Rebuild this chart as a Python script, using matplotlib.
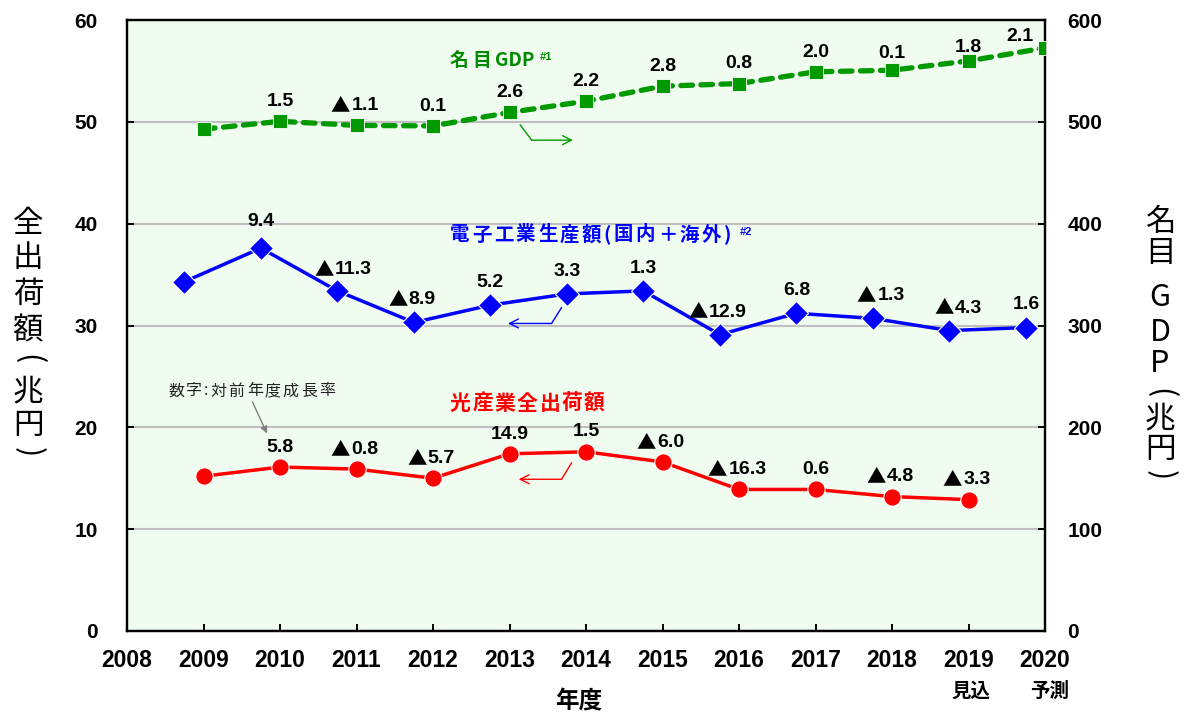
import matplotlib
matplotlib.use('Agg')
import matplotlib.pyplot as plt
import matplotlib.transforms as mtransforms
import numpy as np

plt.rcParams['font.family'] = ['Liberation Sans', 'Noto Sans CJK JP', 'DejaVu Sans']
JP = ['Noto Sans CJK JP', 'DejaVu Sans']

# data (fiscal years)
years = [2009, 2010, 2011, 2012, 2013, 2014, 2015, 2016, 2017, 2018, 2019, 2020]
gdp = [492.8, 500.5, 496.5, 496.0, 509.2, 520.3, 535.0, 537.6, 549.1, 550.7, 559.8, 572.6]
gdp_growth = [None, 1.5, -1.1, 0.1, 2.6, 2.2, 2.8, 0.8, 2.0, 0.1, 1.8, 2.1]
elec = [34.3, 37.6, 33.4, 30.3, 32.0, 33.1, 33.4, 29.1, 31.2, 30.7, 29.5, 29.8]
elec_growth = [None, 9.4, -11.3, -8.9, 5.2, 3.3, 1.3, -12.9, 6.8, -1.3, -4.3, 1.6]
opt_years = [2009, 2010, 2011, 2012, 2013, 2014, 2015, 2016, 2017, 2018, 2019]
opt = [15.2, 16.1, 15.9, 15.0, 17.4, 17.6, 16.6, 13.9, 13.9, 13.2, 12.9]
opt_growth = [None, 5.8, -0.8, -5.7, 14.9, 1.5, -6.0, -16.3, 0.6, -4.8, -3.3]

xtick_years = list(range(2008, 2021))
left_ticks = [0, 10, 20, 30, 40, 50, 60]
right_ticks = [0, 100, 200, 300, 400, 500, 600]

GREEN = '#009a00'
BLUE = '#0000ff'
RED = '#ff0000'
W, H = 1186, 720

fig = plt.figure(figsize=(W / 100, H / 100), dpi=100)
ax = fig.add_axes([127 / W, 89 / H, 918 / W, 611 / H])
ax.set_facecolor('#f1fcf1')
ax.set_xlim(2008, 2020)
ax.set_ylim(0, 60)
ax2 = ax.twinx()
ax2.set_ylim(0, 600)

ax.set_yticks(left_ticks)
ax2.set_yticks(right_ticks)
ax.set_xticks(xtick_years)
ax.set_xticklabels([str(y) for y in xtick_years], fontsize=16.5, fontweight='bold')
ax.set_yticklabels([str(v) for v in left_ticks], fontsize=15, fontweight='bold')
ax2.set_yticklabels([str(v) for v in right_ticks], fontsize=15, fontweight='bold')
ax.tick_params(axis='x', direction='in', length=5, width=1.4, pad=13)
ax.tick_params(axis='y', direction='in', length=5, width=1.4, pad=21)
ax2.tick_params(axis='y', direction='in', length=5, width=1.4, pad=16)
ax.grid(axis='y', color='#bfbfbf', lw=1.5)
for a in (ax, ax2):
    for s in a.spines.values():
        s.set_linewidth(1.6)
        s.set_color('black')

# series
ax.plot(np.array(years) - 0.25, elec, color=BLUE, lw=2.5, marker='D', ms=12,
        mec='white', mew=0.8, zorder=3)
ax.plot(opt_years, opt, color=RED, lw=2.5, marker='o', ms=12.5,
        mec='white', mew=0.8, zorder=3)
ax2.plot(years, gdp, color=GREEN, lw=3.8, ls=(0, (2.2, 1.6)), dash_capstyle='round',
         marker='s', ms=9.5, mec='white', mew=0.6, zorder=3)


def label_points(axis, xs, ys, growth, dy, tweaks):
    fs = 14
    for x, y, g in zip(xs, ys, growth):
        if g is None:
            continue
        dx, ddy = tweaks.get(round(x), (0, dy))
        base = ddy - 5
        num = '%.1f' % abs(g)
        kw = dict(xycoords='data', textcoords='offset points', va='baseline',
                  fontsize=fs, fontweight='bold', color='black', zorder=6)
        if g < 0:
            w_num = fs * (0.556 * (len(num) - 1) + 0.278)
            w_tri = fs * 0.85
            j = dx + (w_tri - w_num) / 2
            axis.annotate('\u25b2', (x, y), xytext=(j - 0.8, base - 0.8), ha='right',
                          family=JP, **kw)
            axis.annotate(num, (x, y), xytext=(j, base), ha='left', **kw)
        else:
            axis.annotate(num, (x, y), xytext=(dx, base), ha='center', **kw)


label_points(ax2, years, gdp, gdp_growth, 16,
             {2018: (0, 14), 2019: (0, 11.5), 2020: (-18, 10)})
label_points(ax, np.array(years) - 0.25, elec, elec_growth, 18,
             {2010: (0, 21), 2011: (6, 17), 2018: (7, 18), 2019: (8, 18)})
label_points(ax, opt_years, opt, opt_growth, 16, {})

renderer = fig.canvas.get_renderer()


def tracked_text(x_px, y_px, s, width_px, **kw):
    # spread characters so the run fills width_px (letter-spaced CJK titles)
    texts, ws = [], []
    for ch in s:
        t = fig.text(0, 0, ch, ha='left', va='center', **kw)
        texts.append(t)
        ws.append(t.get_window_extent(renderer).width)
    gap = (width_px - sum(ws)) / max(len(s) - 1, 1)
    x = x_px
    for t, w in zip(texts, ws):
        t.set_position((x / W, 1 - y_px / H))
        x += w + gap


def stacked_text(x_px, centers, s, **kw):
    for ch, cy in zip(s, centers):
        rot = 0
        if ch in '()':
            rot = -90
        fig.text(x_px / W, 1 - cy / H, ch, ha='center', va='center',
                 rotation=rot, **kw)


# series names
tracked_text(450, 60, '名目', 41, color='#008a00', fontsize=13.5,
             fontweight='bold', family=JP)
fig.text(495 / W, 1 - 60 / H, 'GDP', color='#008a00', fontsize=13.5,
         fontweight='bold', family=JP, ha='left', va='center')
fig.text(540 / W, 1 - 57 / H, '#1', color='#008a00', fontsize=8, fontweight='bold',
         ha='left', va='center')
tracked_text(450, 235, '電子工業生産額(国内＋海外)', 281, color=BLUE, fontsize=14,
             fontweight='bold', family=JP)
fig.text(740 / W, 1 - 231.5 / H, '#2', color=BLUE, fontsize=8, fontweight='bold',
         ha='left', va='center')
tracked_text(450, 403, '光産業全出荷額', 155, color=RED, fontsize=15,
             fontweight='bold', family=JP)
tracked_text(168, 391, '数字:対前年度成長率', 167, color='#222222', fontsize=11.5,
             family=JP)


def bent_arrow(p0, p1, p2, color):
    ax.plot([p0[0], p1[0]], [p0[1], p1[1]], color=color, lw=1, zorder=4)
    ax.annotate('', xy=p2, xytext=p1,
                arrowprops=dict(arrowstyle='->', color=color, lw=1,
                                shrinkA=0, shrinkB=0, mutation_scale=16), zorder=4)


bent_arrow((2013.14, 49.7), (2013.29, 48.2), (2013.83, 48.2), GREEN)
bent_arrow((2013.68, 31.75), (2013.55, 30.2), (2012.98, 30.2), BLUE)
bent_arrow((2013.81, 16.5), (2013.68, 14.9), (2013.12, 14.9), RED)
ax.annotate('', xy=(2009.83, 19.4), xytext=(2009.64, 22.5),
            arrowprops=dict(arrowstyle='-|>', color='#808080', lw=1,
                            shrinkA=0, shrinkB=0, mutation_scale=10))

# axis titles (vertical, stacked)
stacked_text(28, [223, 258, 294, 331, 359, 392, 426, 452.5], '全出荷額(兆円)',
             fontsize=22, family=JP)
stacked_text(1160, [222.5, 253, 297, 332.5, 364, 393, 419, 449, 475], '名目GDP(兆円)',
             fontsize=22, family=JP)
fig.text(579 / W, 1 - 701 / H, '年度', ha='center', va='center',
         fontsize=17, fontweight='bold', family=JP)
tr = mtransforms.blended_transform_factory(ax.transData, fig.transFigure)
ax.text(2019.03, 1 - 691 / H, '見込', transform=tr, ha='center', va='center',
        fontsize=14, fontweight='bold', family=JP)
ax.text(2020.06, 1 - 691 / H, '予測', transform=tr, ha='center', va='center',
        fontsize=14, fontweight='bold', family=JP)

fig.savefig('out.png', dpi=100, facecolor='white')
